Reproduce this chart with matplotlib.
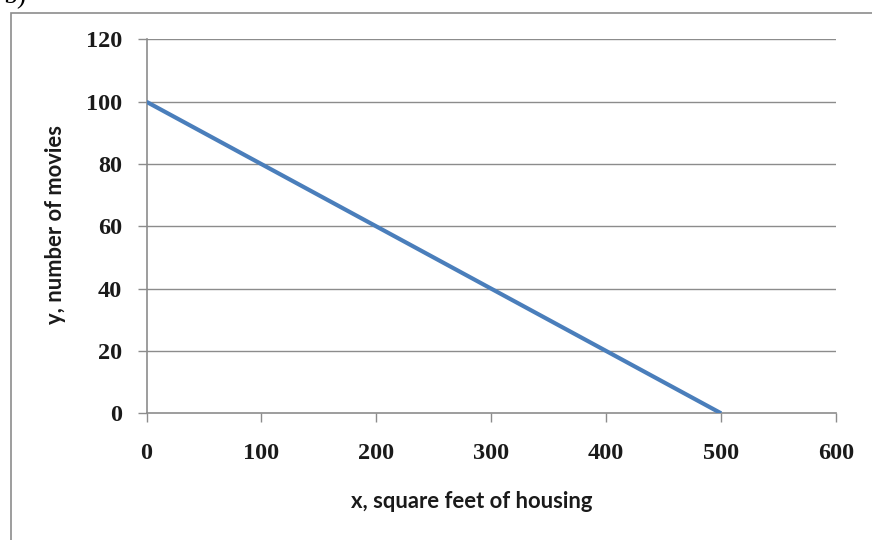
import matplotlib
matplotlib.use("Agg")
import matplotlib.pyplot as plt
from matplotlib.patches import Rectangle

# Budget line: square feet of housing vs. number of movies
x_values = [0, 500]
y_values = [100, 0]
x_ticks = [0, 100, 200, 300, 400, 500, 600]
y_ticks = [0, 20, 40, 60, 80, 100, 120]
x_label = "x, square feet of housing"
y_label = "y, number of movies"

W, H, DPI = 872, 540, 100
fig = plt.figure(figsize=(W / DPI, H / DPI), dpi=DPI)
fig.patch.set_facecolor("white")

# chart-area frame (runs off the right and bottom edges)
fig.patches.append(Rectangle((11 / W, -0.1), 1.2, 1 - 13 / H + 0.1,
                             transform=fig.transFigure, fill=False,
                             edgecolor="#8c8c8c", linewidth=1.2))
# part of a "b)" caption above the frame
fig.text(4 / W, 1 - 9 / H, "b)", fontfamily="Liberation Serif", fontsize=20,
         ha="left", va="bottom", color="black")

ax = fig.add_axes([146.5 / W, 1 - 413.3 / H, (836 - 146.5) / W, (413.3 - 39.5) / H])
ax.set_xlim(0, 600)
ax.set_ylim(0, 120)

grid_col = "#8c8c8c"
for yv in y_ticks[1:]:
    ax.axhline(yv, color=grid_col, linewidth=1.0, zorder=1)

ax.plot(x_values, y_values, color="#4a7ebb", linewidth=3.0, solid_capstyle="butt", zorder=3)

for s in ("top", "right"):
    ax.spines[s].set_visible(False)
for s in ("left", "bottom"):
    ax.spines[s].set_color(grid_col)
    ax.spines[s].set_linewidth(1.2)

ax.set_xticks(x_ticks)
ax.set_yticks(y_ticks)
ax.tick_params(axis="both", direction="out", length=6.5, width=1.0, color=grid_col)
ax.tick_params(axis="x", pad=15)
ax.tick_params(axis="y", pad=11)
for lab in ax.get_xticklabels() + ax.get_yticklabels():
    lab.set_fontfamily("Liberation Serif")
    lab.set_fontweight("bold")
    lab.set_fontsize(17.5)
    lab.set_color("#1a1a1a")

fig.text(471.5 / W, 1 - 502 / H, x_label, fontfamily="Lato", fontweight="bold",
         fontsize=15.8, ha="center", va="center", color="#1a1a1a")
fig.text(55 / W, 1 - 224.5 / H, y_label, fontfamily="Lato", fontweight="bold",
         fontsize=15.8, ha="center", va="center", rotation=90, color="#1a1a1a")

fig.savefig("out.png", dpi=DPI, facecolor="white")
